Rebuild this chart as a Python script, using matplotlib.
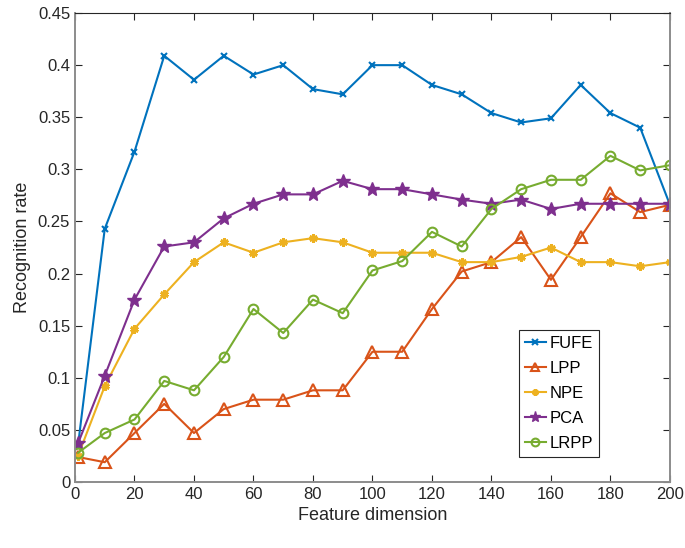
import numpy as np
import matplotlib
matplotlib.use('Agg')
import matplotlib.pyplot as plt

plt.rcParams['font.family'] = ['Liberation Sans', 'DejaVu Sans']

# Feature dimensions (x axis)
dims = [1, 10, 20, 30, 40, 50, 60, 70, 80, 90, 100,
        110, 120, 130, 140, 150, 160, 170, 180, 190, 200]

# Recognition rate per method
fufe = [0.035, 0.243, 0.317, 0.409, 0.386, 0.409, 0.391, 0.400, 0.377, 0.372, 0.400,
        0.400, 0.381, 0.372, 0.354, 0.345, 0.349, 0.381, 0.354, 0.340, 0.266]
lpp = [0.024, 0.019, 0.047, 0.075, 0.047, 0.070, 0.079, 0.079, 0.088, 0.088, 0.125,
       0.125, 0.166, 0.202, 0.211, 0.235, 0.194, 0.235, 0.277, 0.259, 0.266]
npe = [0.025, 0.092, 0.147, 0.180, 0.211, 0.230, 0.220, 0.230, 0.234, 0.230, 0.220,
       0.220, 0.220, 0.211, 0.211, 0.216, 0.225, 0.211, 0.211, 0.207, 0.211]
pca = [0.037, 0.102, 0.175, 0.226, 0.230, 0.253, 0.267, 0.276, 0.276, 0.289, 0.281,
       0.281, 0.276, 0.271, 0.267, 0.271, 0.262, 0.267, 0.267, 0.267, 0.267]
lrpp = [0.028, 0.047, 0.060, 0.097, 0.088, 0.120, 0.166, 0.143, 0.175, 0.162, 0.203,
        0.212, 0.240, 0.226, 0.262, 0.281, 0.290, 0.290, 0.313, 0.299, 0.304]

fig = plt.figure(figsize=(6.85, 5.48), dpi=100)
ax = fig.add_axes([0.1095, 0.1204, 0.8685, 0.8558])

asterisk = (6, 2, 0)
ax.plot(dims, fufe, color='#0072BD', marker='x', markersize=5, mew=1.5, lw=1.5, label='FUFE')
ax.plot(dims, lpp, color='#D95319', marker='^', markersize=8, mfc='none', mew=1.5, lw=1.5, label='LPP')
ax.plot(dims, npe, color='#EDB120', marker=asterisk, markersize=6, mew=2, lw=1.5, label='NPE')
ax.plot(dims, pca, color='#7E2F8E', marker='*', markersize=10, lw=1.5, label='PCA')
ax.plot(dims, lrpp, color='#77AC30', marker='o', markersize=7, mfc='none', mew=1.5, lw=1.5, label='LRPP')

ax.set_xlim(0, 200)
ax.set_ylim(0, 0.45)
ax.set_xticks(np.arange(0, 201, 20))
ax.set_yticks(np.arange(0, 0.451, 0.05))
ax.set_yticklabels(['0', '0.05', '0.1', '0.15', '0.2', '0.25', '0.3', '0.35', '0.4', '0.45'])

ax.tick_params(direction='in', top=True, right=True, length=5, width=0.8,
               labelsize=12, labelcolor='#262626', color='#262626')
for s in ['left', 'right', 'bottom']:
    ax.spines[s].set_color('#8c8c8c')
    ax.spines[s].set_linewidth(1.4)
ax.spines['top'].set_color('#262626')
ax.spines['top'].set_linewidth(0.8)

ax.set_xlabel('Feature dimension', fontsize=13, color='#262626', labelpad=4)
ax.set_ylabel('Recognition rate', fontsize=13, color='#262626', labelpad=5)

leg = ax.legend(loc='lower left', bbox_to_anchor=(0.746, 0.053), fontsize=12,
                fancybox=False, edgecolor='#262626', framealpha=1,
                handlelength=1.3, handletextpad=0.2, borderpad=0.35,
                labelspacing=0.6, borderaxespad=0, markerscale=0.8)
leg.get_frame().set_linewidth(0.8)

fig.savefig('out.png', dpi=100)
